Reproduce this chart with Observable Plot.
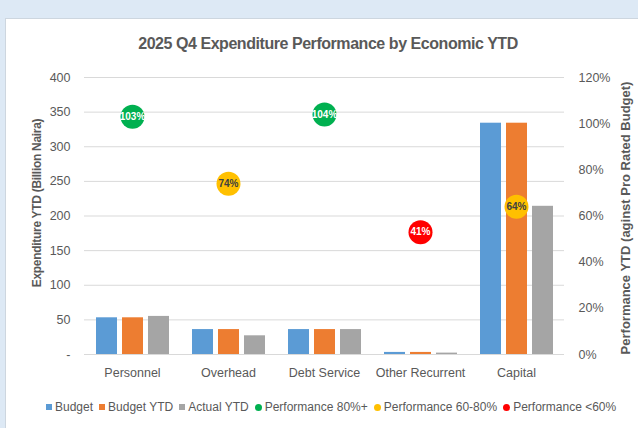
<!DOCTYPE html>
<html><head><meta charset="utf-8">
<script src="https://cdn.jsdelivr.net/npm/d3@7"></script>
<script src="https://cdn.jsdelivr.net/npm/@observablehq/plot@0.6"></script>
<style>
body{margin:0;width:638px;height:428px;overflow:hidden;background:#dde9f5;font-family:"Liberation Sans",Arial,sans-serif;position:relative}
#panel{position:absolute;left:5px;top:18px;width:640px;height:420px;background:#fff;border-left:1px solid #cdd6df;border-top:1px solid #cdd6df}
#title{position:absolute;left:0;width:656px;top:35px;text-align:center;font-weight:bold;font-size:16px;color:#595959;letter-spacing:-0.45px}
#chart{position:absolute;left:0;top:0}
.ytitle{position:absolute;font-weight:bold;color:#595959;white-space:nowrap;transform:translate(-50%,-50%) rotate(-90deg)}
#legend{position:absolute;top:400px;left:46px;display:flex;font-size:12px;color:#595959;white-space:nowrap}
#legend span.item{display:flex;align-items:center;margin-right:6px}
#legend i{display:inline-block;margin-right:3px}
</style></head>
<body>
<div id="panel"></div>
<div id="title">2025 Q4 Expenditure Performance by Economic YTD</div>
<div id="chart"></div>
<div class="ytitle" style="left:37px;top:203px;font-size:12px;letter-spacing:-0.3px">Expenditure YTD (Billion Naira)</div>
<div class="ytitle" style="left:625px;top:218px;font-size:13px">Performance YTD (aginst Pro Rated Budget)</div>
<div id="legend"></div>
<script>
const categories = ["Personnel", "Overhead", "Debt Service", "Other Recurrent", "Capital"];
const series = ["Budget", "Budget YTD", "Actual YTD"];
const budget = [53, 36, 36, 3, 334];
const budgetYTD = [53, 36, 36, 3, 334];
const actualYTD = [55, 27, 36, 2, 214];
// performance labels shown in the markers
const performance = [103, 74, 104, 41, 64];
// marker heights as read on the right axis (percent)
const markerLevel = [103, 74, 104, 53, 64];
const leftTicks = [0, 50, 100, 150, 200, 250, 300, 350, 400];
const rightTicks = [0, 20, 40, 60, 80, 100, 120];
const seriesColors = ["#5b9bd5", "#ed7d31", "#a5a5a5"];
const perfBands = ["Performance 80%+", "Performance 60-80%", "Performance <60%"];
const perfColors = ["#00b050", "#ffc000", "#ff0000"];
const perfTextColors = ["#ffffff", "#404040", "#ffffff"];

const leftMax = 400, rightMax = 120;
const toLeft = p => p / rightMax * leftMax;
const band = p => p >= 80 ? 0 : p >= 60 ? 1 : 2;

const barRows = [];
categories.forEach((c, i) => {
  [budget, budgetYTD, actualYTD].forEach((arr, j) => barRows.push({category: c, series: series[j], value: arr[i]}));
});
const perfRows = categories.map((c, i) => ({category: c, perf: performance[i], level: markerLevel[i], band: band(performance[i])}));

const chart = Plot.plot({
  width: 638, height: 428,
  marginTop: 77, marginBottom: 74, marginLeft: 84, marginRight: 74,
  style: {background: "transparent", fontFamily: "'Liberation Sans', Arial, sans-serif", fontSize: "12.5px", color: "#595959"},
  fx: {domain: categories, padding: 0, label: null, axis: "bottom", tickSize: 0, tickPadding: 14},
  x: {domain: series, paddingInner: 0.2075, paddingOuter: 0.415, axis: null},
  y: {domain: [0, leftMax], axis: null},
  color: {domain: series, range: seriesColors},
  marks: [
    Plot.ruleY(leftTicks, {stroke: "#d9d9d9", strokeWidth: 1}),
    Plot.axisY(leftTicks, {anchor: "left", tickSize: 0, tickPadding: 14, label: null, tickFormat: d => d === 0 ? "-" : String(d), fill: "#595959"}),
    Plot.axisY(rightTicks.map(toLeft), {anchor: "right", tickSize: 0, tickPadding: 14, label: null, tickFormat: d => Math.round(d / leftMax * rightMax) + "%", fill: "#595959"}),
    Plot.barY(barRows, {fx: "category", x: "series", y: "value", fill: "series"}),
    Plot.dot(perfRows, {fx: "category", y: d => toLeft(d.level), r: 12, fill: d => perfColors[d.band], stroke: "none"}),
    Plot.text(perfRows, {fx: "category", y: d => toLeft(d.level), text: d => d.perf + "%", fill: d => perfTextColors[d.band], fontWeight: "bold", fontSize: 10, letterSpacing: "-0.4px"})
  ]
});
document.getElementById("chart").appendChild(chart);

const legend = document.getElementById("legend");
series.forEach((s, i) => {
  legend.insertAdjacentHTML("beforeend", `<span class="item"><i style="width:6px;height:6px;background:${seriesColors[i]}"></i>${s}</span>`);
});
perfBands.forEach((s, i) => {
  legend.insertAdjacentHTML("beforeend", `<span class="item"><i style="width:7px;height:7px;border-radius:50%;background:${perfColors[i]}"></i>${s}</span>`);
});
</script>
</body></html>
